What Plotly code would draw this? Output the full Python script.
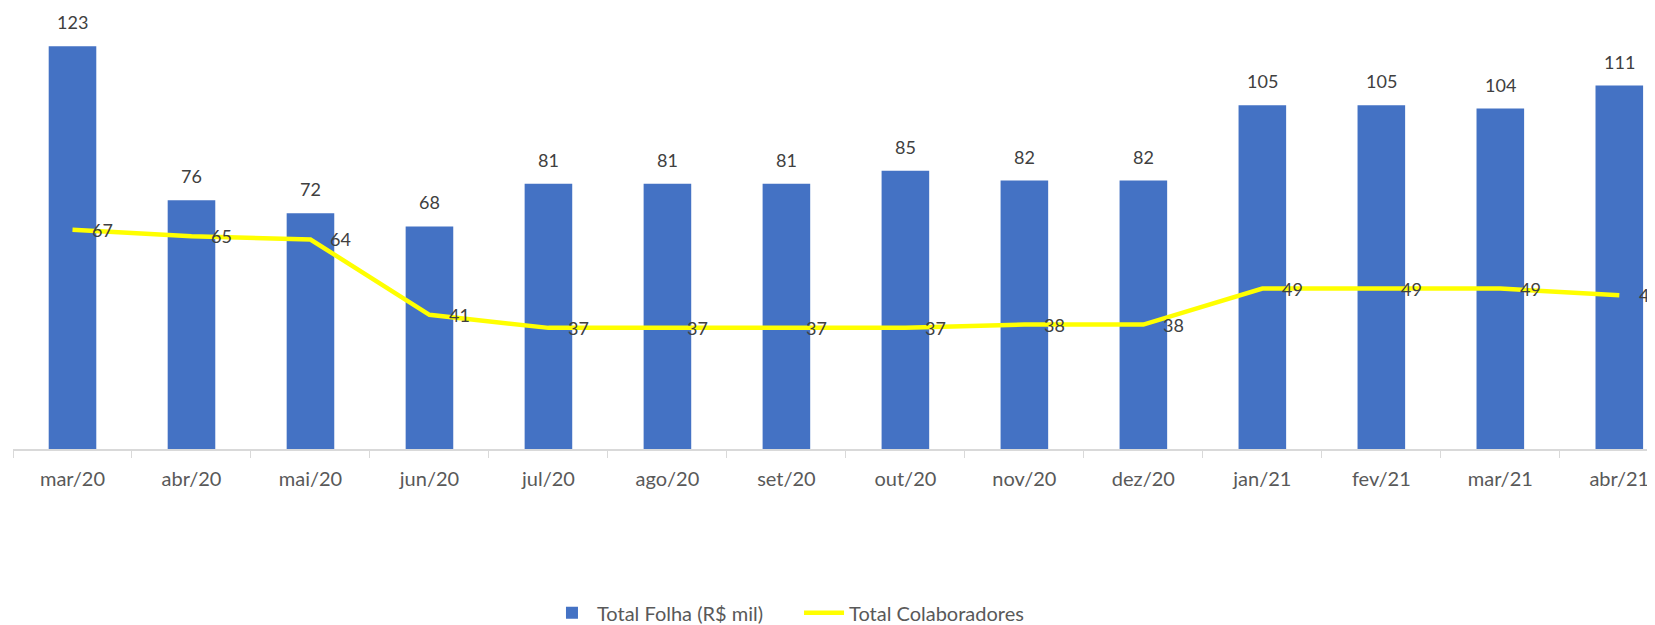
import plotly.graph_objects as go

categories = ["mar/20", "abr/20", "mai/20", "jun/20", "jul/20", "ago/20", "set/20",
              "out/20", "nov/20", "dez/20", "jan/21", "fev/21", "mar/21", "abr/21"]
folha = [123, 76, 72, 68, 81, 81, 81, 85, 82, 82, 105, 105, 104, 111]
colaboradores = [67, 65, 64, 41, 37, 37, 37, 37, 38, 38, 49, 49, 49, 47]

FONT = "Lato"
TXT = "#404040"

fig = go.Figure()
fig.add_trace(go.Bar(
    x=categories, y=folha, name="Total Folha (R$ mil)",
    marker=dict(color="#4472C4", line=dict(width=0)), width=0.40,
    legend="legend",
))
fig.add_trace(go.Scatter(
    x=categories, y=colaboradores, name="Total Colaboradores", mode="lines",
    line=dict(color="#FFFF00", width=4.5),
    legend="legend2",
))

annotations = []
for c, v in zip(categories, folha):
    annotations.append(dict(x=c, y=v, text=str(v), showarrow=False, yshift=24,
                            xanchor="center", yanchor="middle",
                            font=dict(family=FONT, size=18, color=TXT)))
for c, v in zip(categories, colaboradores):
    annotations.append(dict(x=c, y=v, text=str(v), showarrow=False, xshift=18,
                            xanchor="left", yanchor="middle",
                            font=dict(family=FONT, size=18, color=TXT)))

legend_style = dict(orientation="h", yanchor="middle", xanchor="left", y=-0.370,
                    font=dict(family=FONT, size=20, color="#595959"), itemwidth=40)

fig.update_layout(
    width=1655, height=625,
    margin=dict(l=5, r=8, t=2, b=183),
    paper_bgcolor="white", plot_bgcolor="white",
    font=dict(family=FONT, color=TXT),
    showlegend=True,
    legend=dict(x=0.3252, **legend_style),
    legend2=dict(x=0.4787, **legend_style),
    annotations=annotations,
    xaxis=dict(type="category", range=[-0.5, 13.3], showgrid=False, automargin=False,
               showline=True, linecolor="#D9D9D9", linewidth=1.5,
               ticks="outside", tickson="boundaries", ticklen=7, tickcolor="#D9D9D9",
               tickfont=dict(family=FONT, size=20, color="#595959"),
               ticklabelstandoff=11),
    yaxis=dict(range=[0, 134.1], visible=False, showgrid=False, zeroline=False),
)

fig.write_html("out.html")
